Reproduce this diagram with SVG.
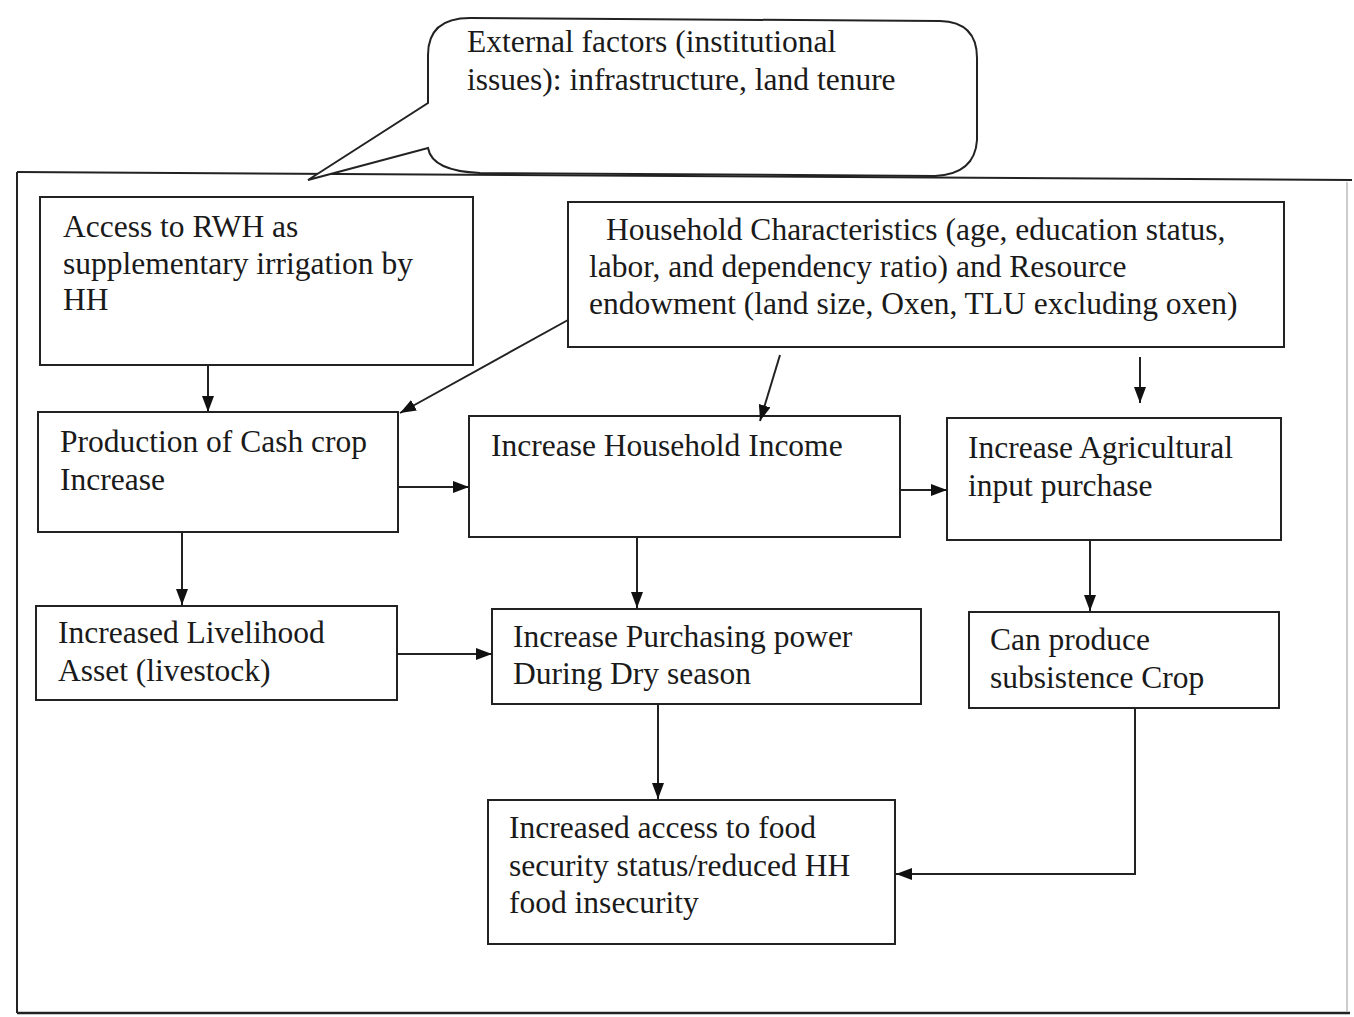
<svg xmlns="http://www.w3.org/2000/svg" width="1354" height="1017" viewBox="0 0 1354 1017">
<style>
.box{fill:#fff;stroke:#222;stroke-width:2}
.t{font-family:"Liberation Serif","Times New Roman",serif;font-size:31.5px;fill:#1a1a1a}
.c{stroke:#222;stroke-width:2;fill:none}
</style>
<defs>
<marker id="ah" viewBox="0 0 16 12" refX="16" refY="6" markerWidth="16" markerHeight="12" markerUnits="userSpaceOnUse" orient="auto">
<path d="M0,0 L16,6 L0,12 Z" fill="#111"/>
</marker>
</defs>
<rect width="1354" height="1017" fill="#fff"/>
<g id="frame">
<line x1="17" y1="172" x2="1352" y2="180" stroke="#222" stroke-width="2"/>
<line x1="17" y1="172" x2="17" y2="1013" stroke="#222" stroke-width="2"/>
<line x1="17" y1="1013" x2="1350" y2="1013" stroke="#222" stroke-width="2.5"/>
<line x1="1347" y1="182" x2="1347" y2="1012" stroke="#bbb" stroke-width="1.5"/>
</g>
<g id="callout">
<path class="box" d="M428,148 Q432,171 480,173 L935,176 Q975,174 977,140 L977,58 Q977,22 940,21 L470,18 Q428,18 428,55 L428,103 L308,180 Z"/>
<text class="t"><tspan x="467" y="52">External factors (institutional</tspan><tspan x="467" y="90">issues): infrastructure, land tenure</tspan></text>
</g>
<g id="n1">
<rect class="box" x="40" y="197" width="433" height="168"/>
<text class="t"><tspan x="63" y="237">Access to RWH as</tspan><tspan x="63" y="274">supplementary irrigation by</tspan><tspan x="63" y="310">HH</tspan></text>
</g>
<g id="n2">
<rect class="box" x="568" y="202" width="716" height="145"/>
<text class="t"><tspan x="606" y="240">Household Characteristics (age, education status,</tspan><tspan x="589" y="277">labor, and dependency ratio) and Resource</tspan><tspan x="589" y="314">endowment (land size, Oxen, TLU excluding oxen)</tspan></text>
</g>
<g id="n3">
<rect class="box" x="38" y="412" width="360" height="120"/>
<text class="t"><tspan x="60" y="452">Production of Cash crop</tspan><tspan x="60" y="490">Increase</tspan></text>
</g>
<g id="n4">
<rect class="box" x="469" y="416" width="431" height="121"/>
<text class="t"><tspan x="491" y="456">Increase Household Income</tspan></text>
</g>
<g id="n5">
<rect class="box" x="947" y="418" width="334" height="122"/>
<text class="t"><tspan x="968" y="458">Increase Agricultural</tspan><tspan x="968" y="496">input purchase</tspan></text>
</g>
<g id="n6">
<rect class="box" x="36" y="606" width="361" height="94"/>
<text class="t"><tspan x="58" y="643">Increased Livelihood</tspan><tspan x="58" y="681">Asset (livestock)</tspan></text>
</g>
<g id="n7">
<rect class="box" x="492" y="609" width="429" height="95"/>
<text class="t"><tspan x="513" y="647">Increase Purchasing power</tspan><tspan x="513" y="684">During Dry season</tspan></text>
</g>
<g id="n8">
<rect class="box" x="969" y="612" width="310" height="96"/>
<text class="t"><tspan x="990" y="650">Can produce</tspan><tspan x="990" y="688">subsistence Crop</tspan></text>
</g>
<g id="n9">
<rect class="box" x="488" y="800" width="407" height="144"/>
<text class="t"><tspan x="509" y="838">Increased access to food</tspan><tspan x="509" y="876">security status/reduced HH</tspan><tspan x="509" y="913">food insecurity</tspan></text>
</g>
<g id="connectors">
<line class="c" x1="208" y1="365" x2="208" y2="412" marker-end="url(#ah)"/>
<line class="c" x1="568" y1="320" x2="400" y2="413" marker-end="url(#ah)"/>
<line class="c" x1="780" y1="355" x2="760" y2="421" marker-end="url(#ah)"/>
<line class="c" x1="1140" y1="357" x2="1140" y2="403" marker-end="url(#ah)"/>
<line class="c" x1="398" y1="487" x2="469" y2="487" marker-end="url(#ah)"/>
<line class="c" x1="900" y1="490" x2="947" y2="490" marker-end="url(#ah)"/>
<line class="c" x1="182" y1="532" x2="182" y2="605" marker-end="url(#ah)"/>
<line class="c" x1="637" y1="537" x2="637" y2="608" marker-end="url(#ah)"/>
<line class="c" x1="1090" y1="540" x2="1090" y2="611" marker-end="url(#ah)"/>
<line class="c" x1="397" y1="654" x2="492" y2="654" marker-end="url(#ah)"/>
<line class="c" x1="658" y1="704" x2="658" y2="799" marker-end="url(#ah)"/>
<polyline class="c" points="1135,708 1135,874 896,874" marker-end="url(#ah)"/>
</g>
</svg>
